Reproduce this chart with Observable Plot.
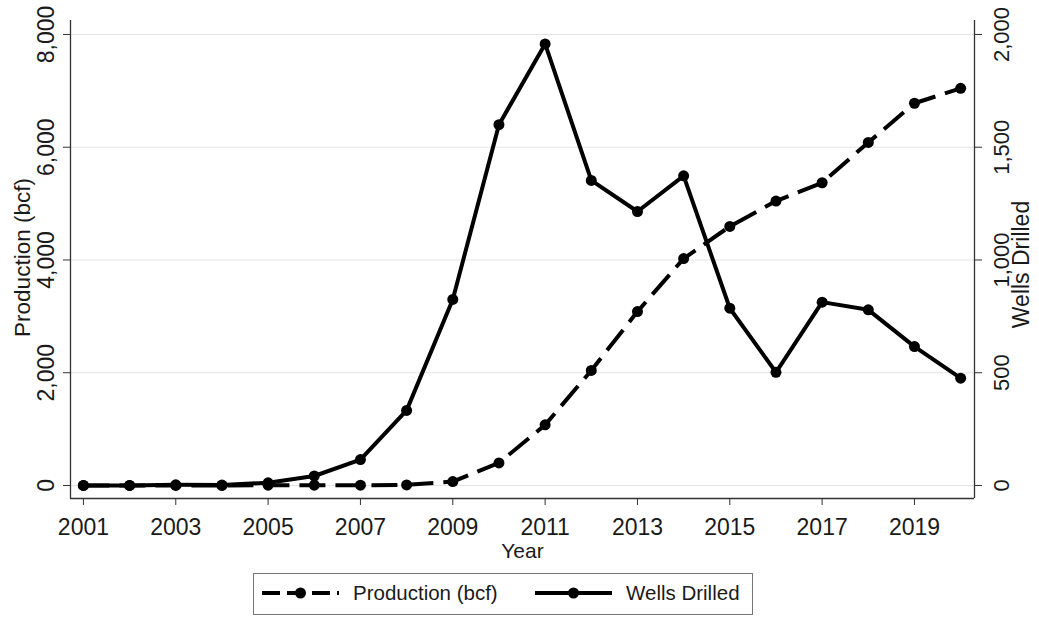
<!DOCTYPE html>
<html>
<head>
<meta charset="utf-8">
<script src="https://cdn.jsdelivr.net/npm/d3@7"></script>
<script src="https://cdn.jsdelivr.net/npm/@observablehq/plot@0.6"></script>
<style>
  html, body { margin: 0; padding: 0; background: #fff; }
  body { font-family: "Liberation Sans", Arial, sans-serif; }
  #wrap { position: relative; width: 1039px; height: 617px; overflow: hidden; }
  #chart svg { display: block; }
  #legend { position: absolute; left: 253px; top: 573px; width: 498px; height: 40px;
            border: 1px solid #777; background: #fff; }
  .item { position: absolute; top: 0; height: 40px; display: flex; align-items: center; }
  .item svg { display: block; }
  .item span { font-size: 20.5px; color: #1a1a1a; white-space: nowrap; }
</style>
</head>
<body>
<div id="wrap">
  <div id="chart"></div>
  <div id="legend"></div>
</div>
<script>
// ---- data ----
const years = [2001, 2002, 2003, 2004, 2005, 2006, 2007, 2008, 2009, 2010,
               2011, 2012, 2013, 2014, 2015, 2016, 2017, 2018, 2019, 2020];
const production = [0, 0, 0, 0, 5, 5, 5, 10, 70, 400,
                    1075, 2040, 3085, 4025, 4595, 5045, 5370, 6085, 6780, 7045];
const wells = [0, 0, 3, 2, 12, 42, 115, 333, 825, 1600,
               1958, 1353, 1215, 1373, 786, 502, 813, 779, 616, 476];
const seriesNames = ["Production (bcf)", "Wells Drilled"];
const xTickLabels = [2001, 2003, 2005, 2007, 2009, 2011, 2013, 2015, 2017, 2019];
const productionTicks = [0, 2000, 4000, 6000, 8000];
const wellsTicks = [0, 500, 1000, 1500, 2000];
const xTitle = "Year";

// right axis maps onto the left scale
const RATIO = productionTicks[productionTicks.length - 1] / wellsTicks[wellsTicks.length - 1];
const table = years.map((year, i) => ({year, production: production[i], wells: wells[i]}));

const FONT = '"Liberation Sans", Arial, sans-serif';
const INK = "#1a1a1a";
const AXIS = "#333";
const xDomain = [2000.72, 2020.30];
const yDomain = [-231, 8248];
const comma = d3.format(",d");

const chart = Plot.plot({
  width: 1039,
  height: 565,
  marginLeft: 70,
  marginRight: 65,
  marginTop: 20,
  marginBottom: 67,
  style: {fontFamily: FONT, background: "#fff", color: INK},
  x: {domain: xDomain},
  y: {domain: yDomain},
  marks: [
    Plot.gridY({ticks: productionTicks, stroke: "#e4e4e4", strokeOpacity: 1, strokeWidth: 1}),
    // axis lines (left, right, bottom)
    Plot.ruleX([xDomain[0]], {stroke: AXIS, strokeWidth: 1.3}),
    Plot.ruleX([xDomain[1]], {stroke: AXIS, strokeWidth: 1.3}),
    Plot.ruleY([yDomain[0]], {stroke: AXIS, strokeWidth: 1.3}),
    Plot.axisX({ticks: xTickLabels, tickFormat: d => String(d), tickSize: 7, tickPadding: 13,
                fontSize: 23, label: null, stroke: AXIS, fill: INK}),
    Plot.axisY({anchor: "left", ticks: productionTicks, tickFormat: d => comma(d), tickSize: 7, tickPadding: 10,
                tickRotate: -90, textAnchor: "middle", lineAnchor: "bottom",
                fontSize: 23, label: null, stroke: AXIS, fill: INK}),
    Plot.axisY({anchor: "right", ticks: wellsTicks.map(v => v * RATIO),
                tickFormat: d => comma(d / RATIO), tickSize: 7, tickPadding: 12,
                tickRotate: -90, textAnchor: "middle", lineAnchor: "top",
                fontSize: 22, label: null, stroke: AXIS, fill: INK}),
    // axis titles
    Plot.text([xTitle], {frameAnchor: "bottom", text: d => d, dy: 59, lineAnchor: "bottom",
                         textAnchor: "middle", fontSize: 21, fill: INK}),
    Plot.text([seriesNames[0]], {frameAnchor: "left", text: d => d, rotate: -90, dx: -48, dy: -2,
                                 textAnchor: "middle", lineAnchor: "middle", fontSize: 22.5, fill: INK}),
    Plot.text([seriesNames[1]], {frameAnchor: "right", text: d => d, rotate: -90, dx: 47, dy: 5,
                                 textAnchor: "middle", lineAnchor: "middle", fontSize: 23, fill: INK}),
    // series
    Plot.line(table, {x: "year", y: "production", stroke: "#000", strokeWidth: 4,
                      strokeDasharray: "26,10", strokeLinecap: "butt"}),
    Plot.dot(table, {x: "year", y: "production", r: 5.5, fill: "#000"}),
    Plot.line(table, {x: "year", y: d => d.wells * RATIO, stroke: "#000", strokeWidth: 4}),
    Plot.dot(table, {x: "year", y: d => d.wells * RATIO, r: 5.5, fill: "#000"})
  ]
});
document.getElementById("chart").appendChild(chart);

// ---- legend ----
const legend = document.getElementById("legend");
const legendItems = [
  {name: seriesNames[0], dash: "18,7", sampleLeft: 8, textLeft: 99},
  {name: seriesNames[1], dash: null, sampleLeft: 281, textLeft: 372}
];
const NS = "http://www.w3.org/2000/svg";
for (const it of legendItems) {
  const s = document.createElementNS(NS, "svg");
  s.setAttribute("width", 78); s.setAttribute("height", 40);
  s.style.position = "absolute"; s.style.left = it.sampleLeft + "px"; s.style.top = "0px";
  const ln = document.createElementNS(NS, "line");
  ln.setAttribute("x1", 0); ln.setAttribute("x2", 77);
  ln.setAttribute("y1", 19); ln.setAttribute("y2", 19);
  ln.setAttribute("stroke", "#000"); ln.setAttribute("stroke-width", 4);
  if (it.dash) ln.setAttribute("stroke-dasharray", it.dash);
  s.appendChild(ln);
  const c = document.createElementNS(NS, "circle");
  c.setAttribute("cx", 38.5); c.setAttribute("cy", 19); c.setAttribute("r", 5.5);
  c.setAttribute("fill", "#000");
  s.appendChild(c);
  legend.appendChild(s);
  const t = document.createElement("div");
  t.className = "item";
  t.style.left = it.textLeft + "px";
  t.style.top = "-1px";
  const sp = document.createElement("span");
  sp.textContent = it.name;
  t.appendChild(sp);
  legend.appendChild(t);
}
</script>
</body>
</html>
